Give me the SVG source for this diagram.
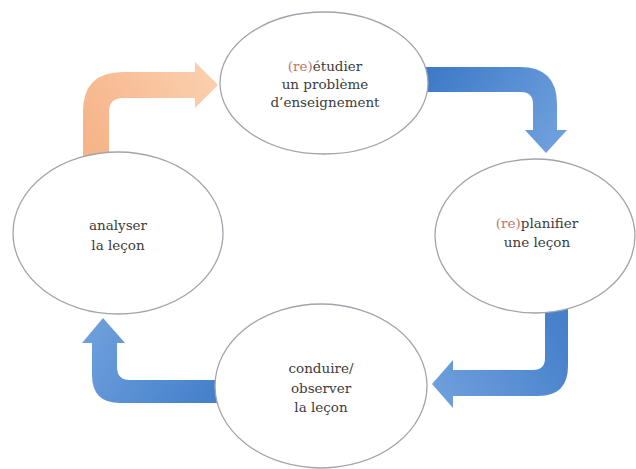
<svg xmlns="http://www.w3.org/2000/svg" width="636" height="469" viewBox="0 0 636 469">
  <style>
    .node ellipse { fill: #ffffff; stroke: #a3a3ab; stroke-width: 1.3; }
    .node text { font-family: "DejaVu Serif", "Liberation Serif", serif; font-size: 13.5px; fill: #3c3c3c; text-anchor: middle; }
    .re { fill: #c4736a; }
  </style>
  <defs>
    <linearGradient id="gOrange" gradientUnits="userSpaceOnUse" x1="96" y1="155" x2="218" y2="85">
      <stop offset="0" stop-color="#f6b489"/>
      <stop offset="1" stop-color="#fbcfae"/>
    </linearGradient>
    <linearGradient id="gBlue1" gradientUnits="userSpaceOnUse" x1="430" y1="80" x2="546" y2="153">
      <stop offset="0" stop-color="#3f7bc9"/>
      <stop offset="1" stop-color="#6e9fdc"/>
    </linearGradient>
    <linearGradient id="gBlue2" gradientUnits="userSpaceOnUse" x1="556" y1="312" x2="432" y2="384">
      <stop offset="0" stop-color="#4680cb"/>
      <stop offset="1" stop-color="#6e9fdc"/>
    </linearGradient>
    <linearGradient id="gBlue3" gradientUnits="userSpaceOnUse" x1="217" y1="391" x2="103" y2="318">
      <stop offset="0" stop-color="#4580cb"/>
      <stop offset="1" stop-color="#6c9edb"/>
    </linearGradient>
  </defs>

  <g id="connectors">
    <path id="arrow-analyse-etudier" fill="url(#gOrange)" d="M83,158 L83,112 Q83,72 123,72 L195,72 L195,62 L218,85 L195,108 L195,98 L123,98 Q109,98 109,112 L109,158 Z"/>
    <path id="arrow-etudier-planifier" fill="url(#gBlue1)" d="M425,67 L520,67 Q557,67 557,104 L557,130 L567,130 L546,153 L525,130 L533,130 L533,104 Q533,92 521,92 L425,92 Z"/>
    <path id="arrow-planifier-conduire" fill="url(#gBlue2)" d="M545,305 L568,305 L568,366 Q568,396 538,396 L453,396 L453,408 L432,384 L453,360 L453,370 L533,370 Q545,370 545,358 Z"/>
    <path id="arrow-conduire-analyser" fill="url(#gBlue3)" d="M222,380 L130,380 Q117,380 117,367 L117,343 L125,343 L103,318 L82,343 L92,343 L92,375 Q92,403 120,403 L222,403 Z"/>
  </g>

  <g id="node-etudier" class="node">
    <ellipse cx="324" cy="83" rx="104" ry="71"/>
    <text x="325" y="71"><tspan class="re">(re)</tspan>étudier</text>
    <text x="325" y="89">un problème</text>
    <text x="325" y="107">d’enseignement</text>
  </g>

  <g id="node-planifier" class="node">
    <ellipse cx="535" cy="236" rx="100" ry="77"/>
    <text x="537" y="228"><tspan class="re">(re)</tspan>planifier</text>
    <text x="537" y="247">une leçon</text>
  </g>

  <g id="node-conduire" class="node">
    <ellipse cx="321" cy="386" rx="106" ry="82"/>
    <text x="321" y="373">conduire/</text>
    <text x="321" y="393">observer</text>
    <text x="321" y="412">la leçon</text>
  </g>

  <g id="node-analyser" class="node">
    <ellipse cx="118" cy="233" rx="105" ry="81"/>
    <text x="118" y="230">analyser</text>
    <text x="118" y="250">la leçon</text>
  </g>
</svg>
